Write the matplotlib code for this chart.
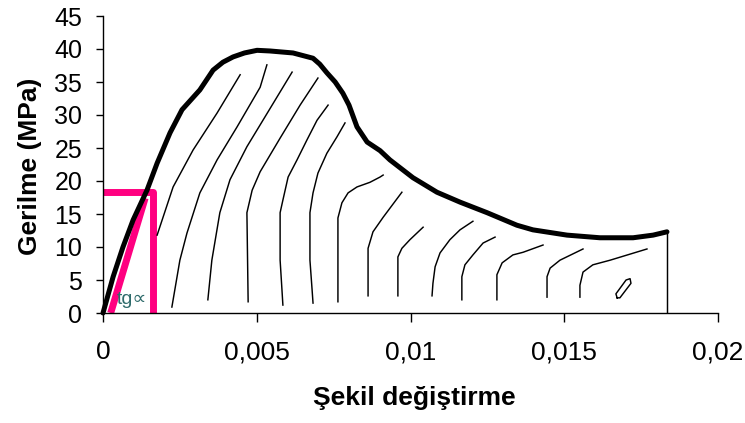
import matplotlib
matplotlib.use("Agg")
import matplotlib.pyplot as plt
from matplotlib import font_manager
from matplotlib.ticker import FixedLocator, FixedFormatter

# ---------------- data ----------------
curve_x = [0, 0.00033, 0.00065, 0.00098, 0.00143, 0.00176, 0.00218, 0.00257, 0.00315, 0.00358,
           0.00390, 0.00423, 0.00460, 0.00501, 0.00543, 0.00618, 0.00683, 0.00705, 0.00728,
           0.00755, 0.00780, 0.00800, 0.00826, 0.00859, 0.00901, 0.00933, 0.01008, 0.01086,
           0.01161, 0.01249, 0.01346, 0.01398, 0.01509, 0.01616, 0.01724, 0.01789, 0.01834]
curve_y = [0, 5.5, 10.0, 14.1, 18.6, 22.7, 27.3, 30.8, 33.8, 36.8,
           38.0, 38.8, 39.4, 39.8, 39.7, 39.4, 38.6, 37.7, 36.4,
           35.0, 33.3, 31.5, 28.2, 25.9, 24.6, 23.2, 20.5, 18.3,
           16.8, 15.2, 13.3, 12.6, 11.8, 11.4, 11.4, 11.8, 12.3]

end_x = [0.01834, 0.01834]
end_y = [12.3, 0]

l1_x = [0.00176, 0.00228, 0.00293, 0.00371, 0.00446]
l1_y = [11.8, 19.1, 24.7, 30.3, 36.1]
l2_x = [0.00224, 0.00250, 0.00273, 0.00315, 0.00371, 0.00436, 0.00511, 0.00533]
l2_y = [0.9, 8.0, 12.1, 18.2, 23.2, 28.2, 34.2, 37.6]
l3_x = [0.00341, 0.00354, 0.00380, 0.00413, 0.00468, 0.00511, 0.00576, 0.00615]
l3_y = [2.0, 8.0, 15.2, 20.2, 25.2, 28.5, 33.5, 36.5]
l4_x = [0.00472, 0.00468, 0.00485, 0.00511, 0.00576, 0.00641, 0.00699]
l4_y = [1.7, 15.2, 18.6, 21.4, 26.5, 31.5, 35.6]
l5_x = [0.00585, 0.00582, 0.00576, 0.00576, 0.00585, 0.00602, 0.00631, 0.00663, 0.00696, 0.00732]
l5_y = [1.2, 3.5, 8.0, 15.2, 17.1, 20.6, 23.2, 26.2, 29.2, 31.5]
l6_x = [0.00683, 0.00680, 0.00673, 0.00673, 0.00683, 0.00699, 0.00728, 0.00761, 0.00787]
l6_y = [1.5, 3.5, 8.0, 15.2, 18.2, 21.2, 24.2, 26.7, 28.8]
l7_x = [0.00764, 0.00764, 0.00777, 0.00797, 0.00826, 0.00868, 0.00901, 0.00911]
l7_y = [1.7, 14.4, 16.7, 18.2, 19.1, 19.8, 20.6, 20.9]
l8_x = [0.00862, 0.00862, 0.00878, 0.00911, 0.00972]
l8_y = [2.6, 9.8, 12.3, 14.5, 18.3]
l9_x = [0.00959, 0.00959, 0.00972, 0.00998, 0.01041]
l9_y = [2.6, 8.5, 9.8, 11.1, 13.0]
l10_x = [0.01070, 0.01073, 0.01080, 0.01096, 0.01128, 0.01161, 0.01203]
l10_y = [2.6, 4.5, 7.0, 9.1, 11.1, 12.6, 13.9]
l11_x = [0.01167, 0.01167, 0.01177, 0.01203, 0.01236, 0.01275]
l11_y = [2.0, 5.5, 7.3, 8.8, 10.6, 11.5]
l12_x = [0.01281, 0.01281, 0.01298, 0.01333, 0.01366, 0.01431]
l12_y = [2.0, 5.8, 7.6, 8.8, 9.2, 10.3]
l13_x = [0.01444, 0.01444, 0.01454, 0.01486, 0.01561]
l13_y = [2.4, 5.5, 6.8, 8.0, 9.7]
l14_x = [0.01551, 0.01551, 0.01561, 0.01593, 0.01649, 0.01769]
l14_y = [2.4, 4.2, 6.2, 7.3, 8.0, 9.7]
loop_x = [0.01672, 0.01668, 0.01701, 0.01714, 0.01717, 0.01681, 0.01672]
loop_y = [2.3, 2.9, 5.0, 5.2, 4.5, 2.3, 2.3]

thin_lines = [(l1_x, l1_y), (l2_x, l2_y), (l3_x, l3_y), (l4_x, l4_y), (l5_x, l5_y),
              (l6_x, l6_y), (l7_x, l7_y), (l8_x, l8_y), (l9_x, l9_y), (l10_x, l10_y),
              (l11_x, l11_y), (l12_x, l12_y), (l13_x, l13_y), (l14_x, l14_y),
              (loop_x, loop_y), (end_x, end_y)]

pink_rect_x = [0, 0.00163, 0.00163]
pink_rect_y = [18.3, 18.3, 0]
pink_diag_x = [0.00025, 0.00137]
pink_diag_y = [0, 17.4]

tg_label = "tg\u221d"
tg_pos = (0.00094, 2.0)

x_ticks = [0, 0.005, 0.01, 0.015, 0.02]
x_ticklabels = ["0", "0,005", "0,01", "0,015", "0,02"]
y_ticks = [0, 5, 10, 15, 20, 25, 30, 35, 40, 45]
y_ticklabels = [str(v) for v in y_ticks]

x_label = "Şekil değiştirme"
y_label = "Gerilme (MPa)"

# ---------------- style ----------------
names = {f.name for f in font_manager.fontManager.ttflist}
base_font = "Liberation Sans" if "Liberation Sans" in names else "DejaVu Sans"

PINK = "#FF0080"
TEAL = "#2E6B6B"

fig = plt.figure(figsize=(7.45, 4.23), dpi=100)
ax = fig.add_axes([103 / 745, 110 / 423, 615 / 745, 297 / 423])

# pink construction
ax.plot(pink_rect_x, pink_rect_y, color=PINK, lw=5, solid_capstyle="butt", zorder=2)
ax.plot(pink_diag_x, pink_diag_y, color=PINK, lw=5, solid_capstyle="butt", zorder=2)

# thin hatching lines
for xs, ys in thin_lines:
    ax.plot(xs, ys, color="black", lw=1.05, zorder=3)

# main curve
ax.plot(curve_x, curve_y, color="black", lw=3.6, solid_capstyle="round",
        solid_joinstyle="round", zorder=4, clip_on=False)

ax.text(tg_pos[0], tg_pos[1], tg_label, color=TEAL, fontsize=14,
        family=[base_font, "DejaVu Sans"], ha="center", va="center", zorder=5)

ax.set_xlim(0, 0.02)
ax.set_ylim(0, 45)
ax.xaxis.set_major_locator(FixedLocator(x_ticks))
ax.xaxis.set_major_formatter(FixedFormatter(x_ticklabels))
ax.yaxis.set_major_locator(FixedLocator(y_ticks))
ax.yaxis.set_major_formatter(FixedFormatter(y_ticklabels))

for s in ("top", "right"):
    ax.spines[s].set_visible(False)
for s in ("left", "bottom"):
    ax.spines[s].set_linewidth(1.0)
    ax.spines[s].set_color("black")

ax.tick_params(axis="x", direction="out", length=6.5, width=1.0, pad=13, labelsize=19)
ax.tick_params(axis="y", direction="out", length=5, width=1.0, pad=10, labelsize=18)
for lab in ax.get_xticklabels() + ax.get_yticklabels():
    lab.set_family(base_font)

ax.set_xlabel(x_label, fontsize=19, fontweight="bold", family=base_font, va="baseline", ha="center")
ax.xaxis.set_label_coords(0.507, -0.3098)
ax.set_ylabel(y_label, fontsize=19, fontweight="bold", family=base_font, va="center", ha="center")
ax.yaxis.set_label_coords(-0.1195, 0.495)

fig.savefig("out.png", dpi=100)
